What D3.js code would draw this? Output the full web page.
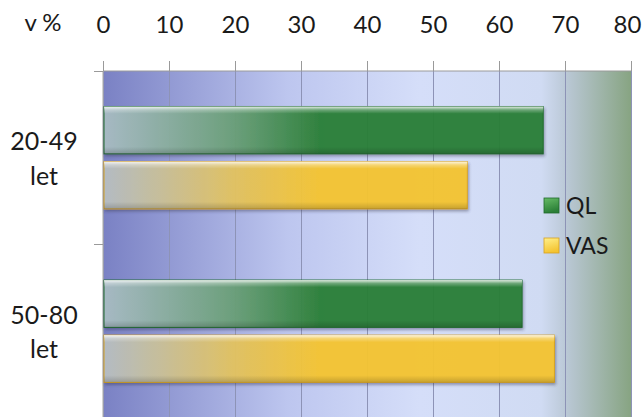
<!DOCTYPE html>
<html>
<head>
<meta charset="utf-8">
<script src="https://cdn.jsdelivr.net/npm/d3@7"></script>
<style>
  body { margin: 0; background: #fff; }
  text { font-family: Lato, "Open Sans", sans-serif; fill: #1a1a1a; }
</style>
</head>
<body>
<svg id="chart" width="643" height="417"></svg>
<script>
// data
var categories = ["20-49 let", "50-80 let"];
var series = ["QL", "VAS"];
var qlValues = [66.7, 63.5];
var vasValues = [55.2, 68.4];
var xTicks = [0, 10, 20, 30, 40, 50, 60, 70, 80];

var data = categories.map(function(c, i) {
  return { cat: c, QL: qlValues[i], VAS: vasValues[i] };
});

var svg = d3.select("#chart");
var margin = {top: 71, right: 12, bottom: -1, left: 103},
    width = 643 - margin.left - margin.right,
    height = 417 - margin.top - margin.bottom;

var x = d3.scaleLinear().domain([0, 80]).range([0, width]);
var y0 = d3.scaleBand().domain(categories).range([0, height]);
var y1 = d3.scaleBand().domain(series)
  .range([y0.bandwidth() * 0.205, y0.bandwidth() * 0.795])
  .paddingInner(0.14);

var defs = svg.append("defs");

// plot background, blue fading to grey green on the right
var bg = defs.append("linearGradient").attr("id", "bg")
  .attr("x1", "0%").attr("x2", "100%").attr("y1", "0%").attr("y2", "0%");
[["0%", "#7a81c4"], ["35%", "#bdc6ef"], ["60%", "#d5def9"], ["83%", "#d0dbf3"],
 ["88%", "#b9c7d4"], ["100%", "#87a482"]].forEach(function(s) {
  bg.append("stop").attr("offset", s[0]).attr("stop-color", s[1]);
});

var colors = {
  QL: {from: "#a9bcc4", mid: "#6a9f78", to: "#2b7f37", stroke: "#1f6a2b", lt: "#66bb66"},
  VAS: {from: "#b6bec4", mid: "#e2c260", to: "#f4c431", stroke: "#d6a11e", lt: "#fff08a"}
};
series.forEach(function(s) {
  var g = defs.append("linearGradient").attr("id", "grad" + s)
    .attr("gradientUnits", "userSpaceOnUse")
    .attr("x1", x(0)).attr("x2", x(33)).attr("y1", 0).attr("y2", 0);
  g.append("stop").attr("offset", "0%").attr("stop-color", colors[s].from);
  g.append("stop").attr("offset", "60%").attr("stop-color", colors[s].mid);
  g.append("stop").attr("offset", "100%").attr("stop-color", colors[s].to);

  var lg = defs.append("linearGradient").attr("id", "leg" + s)
    .attr("x1", "0%").attr("x2", "30%").attr("y1", "0%").attr("y2", "100%");
  lg.append("stop").attr("offset", "0%").attr("stop-color", colors[s].lt);
  lg.append("stop").attr("offset", "100%").attr("stop-color", colors[s].to);
});

var shine = defs.append("linearGradient").attr("id", "shine")
  .attr("x1", "0%").attr("x2", "0%").attr("y1", "0%").attr("y2", "100%");
shine.append("stop").attr("offset", "0%").attr("stop-color", "#fff").attr("stop-opacity", 0.85);
shine.append("stop").attr("offset", "7%").attr("stop-color", "#fff").attr("stop-opacity", 0.3);
shine.append("stop").attr("offset", "15%").attr("stop-color", "#fff").attr("stop-opacity", 0);
shine.append("stop").attr("offset", "85%").attr("stop-color", "#000").attr("stop-opacity", 0);
shine.append("stop").attr("offset", "100%").attr("stop-color", "#000").attr("stop-opacity", 0.18);

var shadow = defs.append("filter").attr("id", "shadow")
  .attr("x", "-5%").attr("y", "-10%").attr("width", "115%").attr("height", "130%");
shadow.append("feDropShadow").attr("dx", 1).attr("dy", 2)
  .attr("stdDeviation", 1.5).attr("flood-color", "#303050").attr("flood-opacity", 0.45);

var g = svg.append("g").attr("transform", "translate(" + margin.left + "," + margin.top + ")");

g.append("rect")
  .attr("width", width).attr("height", height)
  .attr("fill", "url(#bg)");

// vertical grid lines
g.selectAll(".grid").data(xTicks).enter().append("line")
  .attr("class", "grid")
  .attr("x1", function(d) { return x(d); }).attr("x2", function(d) { return x(d); })
  .attr("y1", 0).attr("y2", height)
  .attr("stroke", "#8d93b6").attr("stroke-width", 1)
  .attr("shape-rendering", "crispEdges");

// top axis
var xAxis = g.append("g")
  .call(d3.axisTop(x).tickValues(xTicks).tickSize(10).tickPadding(28).tickFormat(d3.format("d")));
xAxis.select(".domain").attr("stroke", "#9a9a9a").attr("d", "M0,0H" + width);
xAxis.selectAll(".tick line").attr("stroke", "#9a9a9a");
xAxis.selectAll(".tick text").attr("font-size", "24px").attr("fill", "#1a1a1a")
  .attr("font-family", "Lato, 'Open Sans', sans-serif")
  .attr("dx", function(d) { return d === 80 ? -4 : 0; });

// left axis with ticks between the categories
var yAxis = g.append("g");
yAxis.append("line").attr("x1", 0).attr("x2", 0).attr("y1", 0).attr("y2", height)
  .attr("stroke", "#a6a6a6");
yAxis.selectAll(".ytick").data([0].concat(categories.map(function(c) { return y0(c) + y0.bandwidth(); })))
  .enter().append("line")
  .attr("x1", -9).attr("x2", 0)
  .attr("y1", function(d) { return d; }).attr("y2", function(d) { return d; })
  .attr("stroke", "#9a9a9a").attr("shape-rendering", "crispEdges");

var catLabels = svg.selectAll(".cat").data(categories).enter().append("text")
  .attr("class", "cat")
  .attr("text-anchor", "middle")
  .attr("font-size", "25px")
  .attr("x", 44)
  .attr("y", function(d) { return margin.top + y0(d) + y0.bandwidth() / 2; });
catLabels.append("tspan").attr("x", 44).attr("dy", "-0.31em")
  .text(function(d) { return d.split(" ")[0]; });
catLabels.append("tspan").attr("x", 44).attr("dy", "1.38em")
  .text(function(d) { return d.split(" ")[1]; });

svg.append("text").attr("x", 43).attr("y", 31).attr("text-anchor", "middle")
  .attr("font-size", "24px").text("v %");

// bars
var groups = g.selectAll(".grp").data(data).enter().append("g")
  .attr("class", "grp")
  .attr("transform", function(d) { return "translate(0," + y0(d.cat) + ")"; });

series.forEach(function(s) {
  groups.append("rect")
    .attr("x", x(0) + 1)
    .attr("y", y1(s))
    .attr("width", function(d) { return x(d[s]) - x(0) - 1; })
    .attr("height", y1.bandwidth())
    .attr("fill", "url(#grad" + s + ")")
    .attr("stroke", colors[s].stroke).attr("stroke-width", 1)
    .attr("opacity", 0.96)
    .attr("filter", "url(#shadow)");
  groups.append("rect")
    .attr("x", x(0) + 1)
    .attr("y", y1(s))
    .attr("width", function(d) { return x(d[s]) - x(0) - 1; })
    .attr("height", y1.bandwidth())
    .attr("fill", "url(#shine)");
});

// legend
var legend = svg.selectAll(".leg").data(series).enter().append("g")
  .attr("class", "leg")
  .attr("transform", function(d, i) { return "translate(544," + (198 + i * 40) + ")"; });
legend.append("rect").attr("width", 15).attr("height", 15)
  .attr("fill", function(d) { return "url(#leg" + d + ")"; })
  .attr("stroke", function(d) { return colors[d].stroke; }).attr("stroke-width", 0.8);
legend.append("text").attr("x", 22).attr("y", 15.5)
  .attr("font-size", "23px").text(function(d) { return d; });
</script>
</body>
</html>
